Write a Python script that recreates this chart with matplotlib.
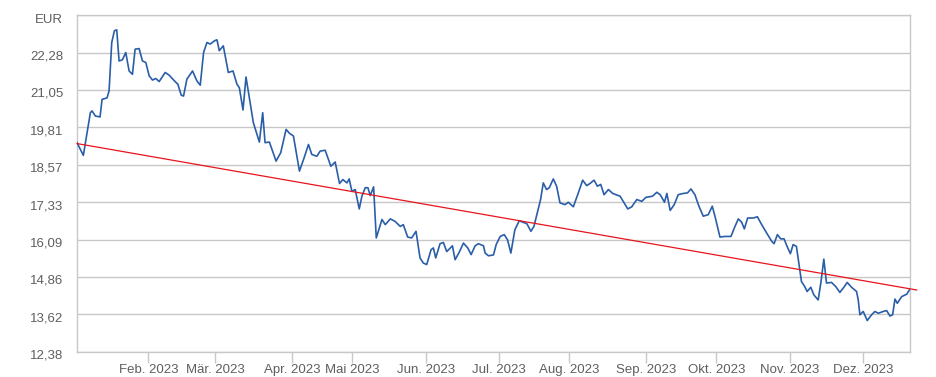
import matplotlib
matplotlib.use('Agg')
import matplotlib.pyplot as plt
import matplotlib.transforms as mtransforms
import numpy as np

plt.rcParams['font.family'] = ['Liberation Sans', 'DejaVu Sans']

# trading-day position (0 = 2. Jan. 2023) and closing price in EUR
day = [0.6, 2.5, 4.6, 5.1, 6.1, 7.5, 8.1, 9.6, 10.2, 11.0, 11.8, 12.5, 13.2, 14.2, 15.2,
       16.2, 17.2, 18.0, 19.2, 20.2, 21.2, 22.2, 23.2, 24.2, 25.2, 27.0, 28.2, 29.8, 30.8,
       31.8, 32.5, 33.5, 35.2, 36.5, 37.5, 38.5, 39.5, 40.5, 41.8, 42.5, 43.2, 44.4, 45.9,
       47.3, 48.5, 49.2, 50.3, 51.2, 52.2, 53.4, 55.2, 56.2, 56.9, 58.2, 60.2, 61.6, 63.2,
       64.2, 65.4, 67.2, 68.6, 69.9, 70.9, 72.4, 73.4, 74.9, 76.6, 77.9, 79.2, 80.2, 81.4,
       82.1, 82.9, 83.9, 85.1, 85.9, 86.9, 87.7, 88.4, 89.4, 90.2, 91.9, 92.9, 94.4, 95.8,
       97.4, 98.3, 99.6, 100.8, 102.1, 103.3, 104.3, 105.3, 106.6, 107.3, 108.0, 109.3,
       110.3, 111.3, 113.0, 113.8, 115.0, 116.3, 117.6, 118.6, 119.8, 120.8, 122.3, 122.8,
       123.8, 125.3, 126.1, 127.3, 128.5, 129.5, 130.5, 131.7, 133.0, 134.1, 135.3, 136.5,
       137.4, 138.4, 139.4, 140.2, 141.2, 142.0, 143.2, 144.2, 145.2, 146.7, 147.7, 149.2,
       150.7, 152.0, 153.2, 154.2, 155.4, 156.4, 157.4, 158.4, 159.7, 161.0, 163.2, 165.5,
       166.7, 168.2, 169.7, 170.9, 172.9, 174.2, 175.2, 176.5, 177.2, 178.2, 179.4, 180.6,
       182.1, 183.4, 184.4, 185.6, 186.8, 188.1, 189.6, 190.8, 191.6, 193.1, 194.6, 196.4,
       197.4, 198.6, 199.6, 200.4, 201.4, 203.1, 204.3, 205.6, 207.1, 208.6, 209.3, 210.3,
       211.3, 212.3, 213.2, 214.2, 215.0, 216.0, 217.0, 217.5, 218.5, 219.2, 220.3, 221.2,
       222.5, 223.3, 224.2, 225.0, 226.5, 227.8, 229.0, 230.2, 231.2, 232.5, 234.0, 234.5,
       235.0, 236.0, 237.2, 238.5, 239.5, 240.5, 242.0, 243.0, 244.0, 244.8, 245.5, 246.2,
       247.5, 249.0, 250.0]
price = [19.30, 18.88, 20.29, 20.35, 20.18, 20.15, 20.73, 20.78, 21.01, 22.61, 23.00, 23.03,
         22.00, 22.04, 22.28, 21.67, 21.56, 22.39, 22.41, 22.00, 21.95, 21.51, 21.37, 21.42,
         21.32, 21.62, 21.53, 21.34, 21.23, 20.87, 20.84, 21.40, 21.67, 21.34, 21.20, 22.28,
         22.61, 22.56, 22.67, 22.70, 22.34, 22.50, 21.62, 21.67, 21.23, 21.12, 20.38, 21.47,
         20.79, 19.96, 19.32, 20.29, 19.30, 19.32, 18.69, 18.97, 19.74, 19.61, 19.52, 18.36,
         18.80, 19.24, 18.91, 18.85, 19.02, 19.05, 18.52, 18.66, 17.95, 18.08, 17.97, 18.10,
         17.69, 17.75, 17.11, 17.53, 17.81, 17.81, 17.55, 17.84, 16.15, 16.76, 16.59, 16.78,
         16.70, 16.53, 16.59, 16.18, 16.15, 16.37, 15.49, 15.32, 15.27, 15.76, 15.82, 15.49,
         15.96, 16.00, 15.70, 15.89, 15.43, 15.67, 15.98, 15.82, 15.60, 15.89, 15.96, 15.89,
         15.65, 15.56, 15.59, 15.93, 16.20, 16.26, 16.09, 15.65, 16.42, 16.72, 16.67, 16.62,
         16.37, 16.53, 16.98, 17.42, 17.97, 17.75, 17.81, 18.10, 17.86, 17.31, 17.25, 17.33,
         17.18, 17.64, 18.06, 17.88, 17.95, 18.06, 17.86, 17.92, 17.58, 17.75, 17.62, 17.53,
         17.11, 17.18, 17.42, 17.36, 17.49, 17.53, 17.66, 17.58, 17.33, 17.62, 17.06, 17.25,
         17.58, 17.62, 17.64, 17.77, 17.58, 17.20, 16.87, 16.92, 17.20, 16.87, 16.18, 16.20,
         16.20, 16.48, 16.78, 16.67, 16.45, 16.81, 16.81, 16.85, 16.59, 16.31, 16.04, 15.96,
         16.26, 16.12, 16.12, 15.87, 15.63, 15.93, 15.87, 15.10, 14.71, 14.54, 14.38, 14.52,
         14.27, 14.10, 14.66, 15.45, 14.66, 14.68, 14.54, 14.35, 14.52, 14.68, 14.52, 14.38,
         14.10, 13.61, 13.72, 13.42, 13.61, 13.72, 13.66, 13.72, 13.75, 13.57, 13.61, 14.13,
         13.99, 14.21, 14.29, 14.46]

# linear trend line
trend_day = [0.6, 252.0]
trend_price = [19.27, 14.43]

y_ticks = [12.38, 13.62, 14.86, 16.09, 17.33, 18.57, 19.81, 21.05, 22.28]
y_top = 23.52

month_starts = ['2023-02-01', '2023-03-01', '2023-04-03', '2023-05-02', '2023-06-01',
                '2023-07-03', '2023-08-01', '2023-09-01', '2023-10-02', '2023-11-01',
                '2023-12-01']
month_labels = ['Feb. 2023', 'Mär. 2023', 'Apr. 2023', 'Mai 2023', 'Jun. 2023', 'Jul. 2023',
                'Aug. 2023', 'Sep. 2023', 'Okt. 2023', 'Nov. 2023', 'Dez. 2023']
holidays = ['2023-04-07', '2023-04-10', '2023-05-01', '2023-12-25', '2023-12-26']

month_pos = [np.busday_count('2023-01-02', d, holidays=holidays) for d in month_starts]

grey = '#c8c8c8'
text_grey = '#5f5f5f'

fig = plt.figure(figsize=(9.36, 3.77), dpi=100)
ax = fig.add_axes([77/936, 25/377, 833/936, 337/377])

ax.plot(day, price, color='#2a5ea8', linewidth=1.2, zorder=3, solid_joinstyle='round')
ax.plot(trend_day, trend_price, color='#e8141c', linewidth=0.9, zorder=4, clip_on=False)

ax.set_xlim(day[0], day[-1])
ax.set_ylim(y_ticks[0], y_top)

ax.set_yticks(y_ticks + [y_top])
ax.set_yticklabels([f'{v:.2f}'.replace('.', ',') for v in y_ticks] + ['EUR'])
ax.tick_params(axis='y', length=0, pad=10, labelsize=9.5, labelcolor=text_grey)
ax.yaxis.grid(True, color=grey, linewidth=1)

# labels sit a little below their grid lines
labels = ax.get_yticklabels()
for i, lab in enumerate(labels):
    shift = -0.04 if i == len(labels) - 1 else -0.025
    lab.set_transform(lab.get_transform() +
                      mtransforms.ScaledTranslation(0, shift, fig.dpi_scale_trans))

ax.set_xticks(month_pos)
ax.set_xticklabels(month_labels)
ax.tick_params(axis='x', length=8, width=1, color=grey, pad=0.5, labelsize=9.5,
               labelcolor=text_grey)

for sp in ax.spines.values():
    sp.set_color(grey)
    sp.set_linewidth(1)

plt.savefig('out.png', dpi=100)
